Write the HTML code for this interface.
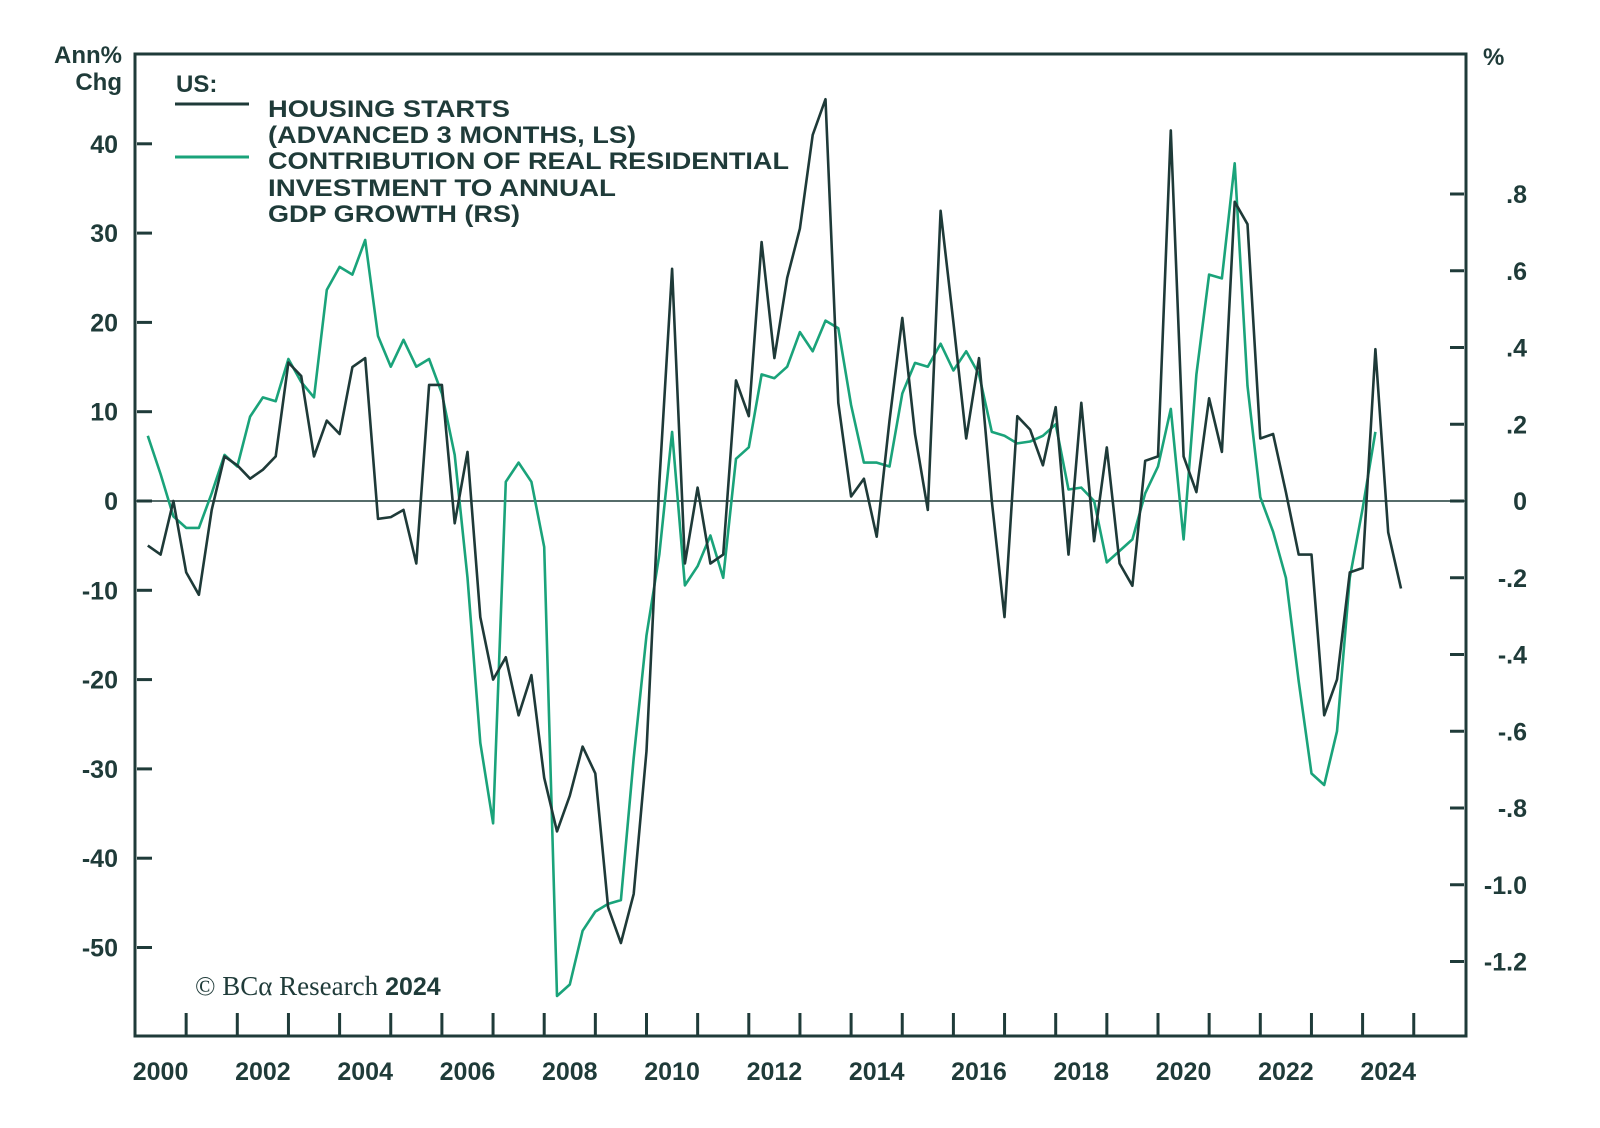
<!DOCTYPE html>
<html><head><meta charset="utf-8"><style>
html,body{margin:0;padding:0;background:#fff;}
svg{display:block;font-family:"Liberation Sans",sans-serif;}
</style></head><body>
<svg id="chart" width="1600" height="1128" viewBox="0 0 1600 1128" xmlns="http://www.w3.org/2000/svg">
<rect width="1600" height="1128" fill="#fff"/>
<g id="grid"></g>
<g id="series"></g>
<rect x="135" y="54" width="1331" height="982" fill="none" stroke="#1f3b39" stroke-width="3"/>
<g id="axes" fill="#1f3b39" font-weight="bold" font-size="25"></g>
<text x="122" y="63" text-anchor="end" fill="#1f3b39" font-size="24" font-weight="bold">Ann%</text>
<text x="122" y="90" text-anchor="end" fill="#1f3b39" font-size="24" font-weight="bold">Chg</text>
<text x="1483" y="65" fill="#1f3b39" font-size="24" font-weight="bold">%</text>
<g fill="#1f3b39" font-weight="bold" font-size="24">
<text x="176" y="92">US:</text>
<line x1="175" y1="104" x2="249" y2="104" stroke="#1e3a38" stroke-width="3"/>
<text x="268" y="117" textLength="242" lengthAdjust="spacingAndGlyphs">HOUSING STARTS</text>
<text x="268" y="143" textLength="368" lengthAdjust="spacingAndGlyphs">(ADVANCED 3 MONTHS, LS)</text>
<line x1="175" y1="157" x2="249" y2="157" stroke="#1aa37a" stroke-width="3"/>
<text x="268" y="169" textLength="521" lengthAdjust="spacingAndGlyphs">CONTRIBUTION OF REAL RESIDENTIAL</text>
<text x="268" y="196" textLength="348" lengthAdjust="spacingAndGlyphs">INVESTMENT TO ANNUAL</text>
<text x="268" y="222" textLength="252" lengthAdjust="spacingAndGlyphs">GDP GROWTH (RS)</text>
</g>
<text x="195" y="995" fill="#1f3b39" font-size="27"><tspan font-family="Liberation Serif, serif">© BCα Research</tspan><tspan font-weight="bold" font-size="25"> 2024</tspan></text>
</svg>
<script>
const years = ["2000","2002","2004","2006","2008","2010","2012","2014","2016","2018","2020","2022","2024"];
const leftTicks = [40,30,20,10,0,-10,-20,-30,-40,-50];
const rightTicks = [0.8,0.6,0.4,0.2,0,-0.2,-0.4,-0.6,-0.8,-1.0,-1.2];
const rightTickLabels = [".8",".6",".4",".2","0","-.2","-.4","-.6","-.8","-1.0","-1.2"];
const housingStarts = [-5,-6,0,-8,-10.5,-1,5,4,2.5,3.5,5,15.5,14,5,9,7.5,15,16,-2,-1.8,-1,-7,13,13,-2.5,5.5,-13,-20,-17.5,-24,-19.5,-31,-37,-33,-27.5,-30.5,-45.5,-49.5,-44,-28,2,26,-7,1.5,-7,-6,13.5,9.5,29,16,25,30.5,41,45,11,0.5,2.5,-4,9,20.5,7.5,-1,32.5,20,7,16,0,-13,9.5,8,4,10.5,-6,11,-4.5,6,-7,-9.5,4.5,5,41.5,5,1,11.5,5.5,33.5,31,7,7.5,1,-6,-6,-24,-20,-8,-7.5,17,-3.5,-9.8];
const residentialContribution = [0.17,0.07,-0.04,-0.07,-0.07,0.02,0.12,0.09,0.22,0.27,0.26,0.37,0.31,0.27,0.55,0.61,0.59,0.68,0.43,0.35,0.42,0.35,0.37,0.28,0.12,-0.2,-0.63,-0.84,0.05,0.10,0.05,-0.12,-1.29,-1.26,-1.12,-1.07,-1.05,-1.04,-0.67,-0.35,-0.14,0.18,-0.22,-0.17,-0.09,-0.2,0.11,0.14,0.33,0.32,0.35,0.44,0.39,0.47,0.45,0.25,0.1,0.1,0.09,0.28,0.36,0.35,0.41,0.34,0.39,0.33,0.18,0.17,0.15,0.155,0.17,0.2,0.03,0.035,0.0,-0.16,-0.13,-0.1,0.02,0.09,0.24,-0.1,0.33,0.59,0.58,0.88,0.3,0.01,-0.08,-0.2,-0.47,-0.71,-0.74,-0.6,-0.2,-0.02,0.18];

const NS="http://www.w3.org/2000/svg";
const X0=135, PX_YEAR=51.15, Y0=501;
function xQ(i){return X0+PX_YEAR*(i/4+0.25);}
function xYear(t){return X0+PX_YEAR*t;}
function yL(v){return Y0-v*8.93;}
function yR(v){return Y0-v*383.75;}
function mk(tag,attrs,parent){const e=document.createElementNS(NS,tag);for(const k in attrs)e.setAttribute(k,attrs[k]);parent.appendChild(e);return e;}
const axes=document.getElementById('axes'), grid=document.getElementById('grid'), series=document.getElementById('series');

const zl=mk('line',{x1:135,x2:1466,y1:yL(0),y2:yL(0),stroke:'#1f3b39','stroke-width':1.5},grid);



leftTicks.forEach(v=>{
  const t=mk('line',{x1:137,x2:152,y1:yL(v),y2:yL(v),stroke:'#1f3b39','stroke-width':3},axes);
  
  
  const l=mk('text',{x:118,y:yL(v)+9,'text-anchor':'end'},axes);
  l.textContent=String(v);
  
  
});
rightTicks.forEach((v,i)=>{
  const t=mk('line',{x1:1450,x2:1464,y1:yR(v),y2:yR(v),stroke:'#1f3b39','stroke-width':3},axes);
  
  
  const l=mk('text',{x:1527,y:yR(v)+9,'text-anchor':'end'},axes);
  l.textContent=rightTickLabels[i];
  
  
});
for(let k=1;k<=25;k++){
  const t=mk('line',{x1:xYear(k),x2:xYear(k),y1:1013,y2:1035,stroke:'#1f3b39','stroke-width':3},axes);
  
  
}
years.forEach(y=>{
  const t=+y-2000;
  const l=mk('text',{x:xYear(t+0.5),y:1080,'text-anchor':'middle'},axes);
  l.textContent=y;
  
  
});

const pG=housingStarts.map((v,i)=>xQ(i).toFixed(1)+','+yL(v).toFixed(1)).join(' ');
const pR=residentialContribution.map((v,i)=>xQ(i).toFixed(1)+','+yR(v).toFixed(1)).join(' ');
const gl=mk('polyline',{points:pR,fill:'none',stroke:'#1aa37a','stroke-width':2.6,'stroke-linejoin':'round'},series);


const bl=mk('polyline',{points:pG,fill:'none',stroke:'#1e3a38','stroke-width':2.6,'stroke-linejoin':'round'},series);


</script>
</body></html>
